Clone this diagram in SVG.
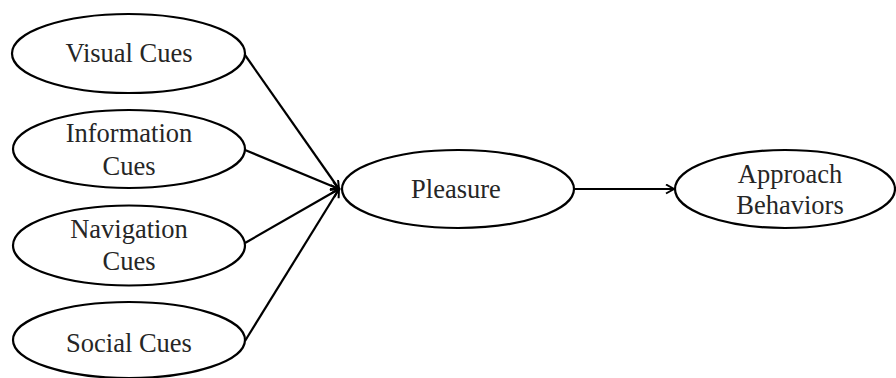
<svg xmlns="http://www.w3.org/2000/svg" width="896" height="378" viewBox="0 0 896 378">
<style>
.node ellipse{fill:#fff;stroke:#000;stroke-width:2.2}
.node text{font-family:"Liberation Serif","Times New Roman",serif;font-size:26.5px;fill:#262626;text-anchor:middle}
.edge{stroke:#000;stroke-width:2.2;fill:none;marker-end:url(#arr)}
</style>
<defs>
<marker id="arr" markerUnits="userSpaceOnUse" markerWidth="12" markerHeight="12" refX="9" refY="5" orient="auto">
<path d="M1,0.5 L9,5 L1,9.5" fill="none" stroke="#000" stroke-width="2"/>
</marker>
</defs>
<rect width="896" height="378" fill="#fff"/>
<g id="connectors">
<line class="edge" x1="245" y1="55" x2="339" y2="189"/>
<line class="edge" x1="245" y1="150" x2="339" y2="189"/>
<line class="edge" x1="245" y1="243" x2="339" y2="189"/>
<line class="edge" x1="245" y1="341" x2="339" y2="189"/>
<line class="edge" x1="574" y1="189" x2="674" y2="189"/>
</g>
<g id="visual" class="node">
<ellipse cx="128.5" cy="53.5" rx="116.5" ry="39.5"/>
<text x="129" y="62">Visual Cues</text>
</g>
<g id="information" class="node">
<ellipse cx="129" cy="149" rx="116" ry="39"/>
<text x="129" y="142">Information</text>
<text x="129" y="175">Cues</text>
</g>
<g id="navigation" class="node">
<ellipse cx="129" cy="245.5" rx="116" ry="40"/>
<text x="129" y="238">Navigation</text>
<text x="129" y="270">Cues</text>
</g>
<g id="social" class="node">
<ellipse cx="129" cy="340" rx="116" ry="38"/>
<text x="129" y="352">Social Cues</text>
</g>
<g id="pleasure" class="node">
<ellipse cx="458" cy="189" rx="116" ry="39"/>
<text x="456" y="198">Pleasure</text>
</g>
<g id="approach" class="node">
<ellipse cx="785" cy="189" rx="110" ry="39"/>
<text x="790" y="183">Approach</text>
<text x="790" y="214">Behaviors</text>
</g>
</svg>
